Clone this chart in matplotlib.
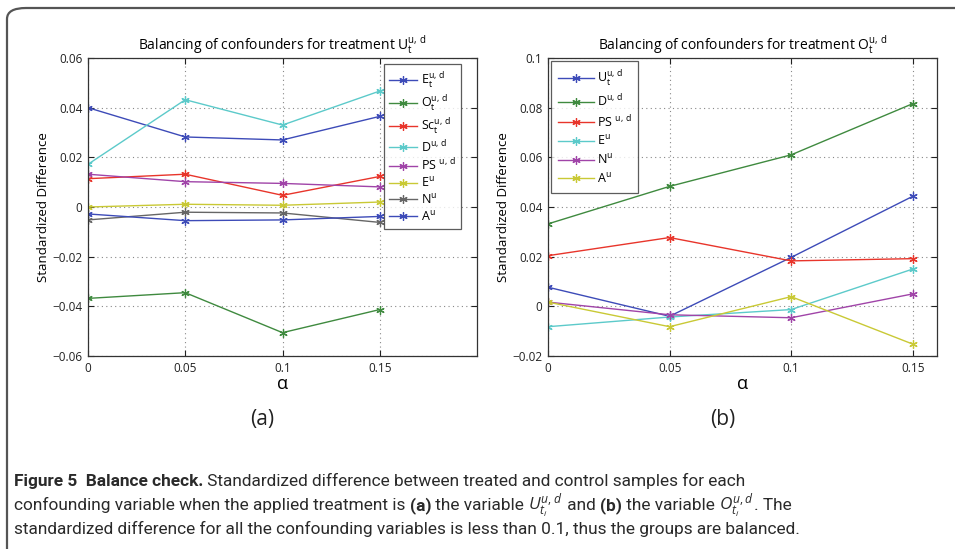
import matplotlib
matplotlib.use("Agg")
import matplotlib.pyplot as plt
from matplotlib.patches import FancyBboxPatch
import numpy as np

plt.rcParams['font.family'] = ['Open Sans', 'DejaVu Sans']
plt.rcParams['mathtext.fontset'] = 'custom'
plt.rcParams['mathtext.rm'] = 'Open Sans'
plt.rcParams['mathtext.it'] = 'Open Sans:italic'
plt.rcParams['mathtext.bf'] = 'Open Sans:bold'

alpha = [0, 0.05, 0.1, 0.15]

# panel (a): treatment U_t
labels_a = [r'E$_{\rm t}^{\rm u,\,d}$', r'O$_{\rm t}^{\rm u,\,d}$', r'Sc$_{\rm t}^{\rm u,\,d}$',
            r'D$^{\rm u,\,d}$', r'PS $^{\rm u,\,d}$', r'E$^{\rm u}$', r'N$^{\rm u}$', r'A$^{\rm u}$']
E_t = [0.0400, 0.0282, 0.0270, 0.0365]
O_t = [-0.0368, -0.0345, -0.0506, -0.0413]
Sc_t = [0.0114, 0.0132, 0.0047, 0.0123]
D_a = [0.0172, 0.0432, 0.0330, 0.0467]
PS_a = [0.0132, 0.0102, 0.0095, 0.0081]
E_u_a = [0.0000, 0.0011, 0.0007, 0.0020]
N_u_a = [-0.0052, -0.0021, -0.0024, -0.0062]
A_u_a = [-0.0028, -0.0055, -0.0052, -0.0038]
colors_a = ['#3d4bb8', '#3f8a3f', '#e8352b', '#5ccaca', '#a044a8', '#c9c935', '#666666', '#3d4bb8']

# panel (b): treatment O_t
labels_b = [r'U$_{\rm t}^{\rm u,\,d}$', r'D$^{\rm u,\,d}$', r'PS $^{\rm u,\,d}$',
            r'E$^{\rm u}$', r'N$^{\rm u}$', r'A$^{\rm u}$']
U_t = [0.0077, -0.0040, 0.0197, 0.0443]
D_b = [0.0332, 0.0483, 0.0610, 0.0816]
PS_b = [0.0204, 0.0277, 0.0183, 0.0192]
E_u_b = [-0.0082, -0.0043, -0.0013, 0.0150]
N_u_b = [0.0017, -0.0034, -0.0046, 0.0050]
A_u_b = [0.0017, -0.0082, 0.0039, -0.0152]
colors_b = ['#3d4bb8', '#3f8a3f', '#e8352b', '#5ccaca', '#a044a8', '#c9c935']

W, H = 955, 549
fig = plt.figure(figsize=(W / 100, H / 100), dpi=100)

def px_axes(x0, y0, x1, y1):
    return fig.add_axes([x0 / W, 1 - y1 / H, (x1 - x0) / W, (y1 - y0) / H])

def style(ax, xlim, ylim, yticks, yticklabels):
    ax.set_xlim(*xlim)
    ax.set_ylim(*ylim)
    ax.set_xticks(alpha)
    ax.set_xticklabels(['0', '0.05', '0.1', '0.15'])
    ax.set_yticks(yticks)
    ax.set_yticklabels(yticklabels)
    ax.tick_params(direction='in', top=True, right=True, length=4, width=0.8,
                   labelsize=8.5, colors='#222222', pad=4)
    ax.grid(True, linestyle=(0, (1, 3)), color='#888888', linewidth=0.8)
    for s in ax.spines.values():
        s.set_color('#333333')
        s.set_linewidth(0.9)
    ax.set_xlabel('\u03b1', fontsize=13, labelpad=0)
    ax.set_ylabel('Standardized Difference', fontsize=9.5, labelpad=2)

mk = dict(marker=(6, 2, 0), markersize=6, linewidth=1.0, markeredgewidth=0.9)

ax1 = px_axes(88, 58, 477, 356)
for vals, lab, c in zip([E_t, O_t, Sc_t, D_a, PS_a, E_u_a, N_u_a, A_u_a], labels_a, colors_a):
    ax1.plot(alpha, vals, color=c, label=lab, **mk)
style(ax1, (0, 0.2), (-0.06, 0.06), [-0.06, -0.04, -0.02, 0, 0.02, 0.04, 0.06],
      ['\u22120.06', '\u22120.04', '\u22120.02', '0', '0.02', '0.04', '0.06'])
ax1.set_title(r'Balancing of confounders for treatment U$_{\rm t}^{\rm u,\,d}$', fontsize=10, pad=6)
leg1 = ax1.legend(loc='upper right', bbox_to_anchor=(0.959, 0.98), fontsize=9, frameon=True,
                  fancybox=False, edgecolor='#333333', borderaxespad=0, handlelength=2.2,
                  handletextpad=0.3, labelspacing=0.22, borderpad=0.45)
leg1.get_frame().set_linewidth(0.9)

ax2 = px_axes(548, 58, 937, 356)
for vals, lab, c in zip([U_t, D_b, PS_b, E_u_b, N_u_b, A_u_b], labels_b, colors_b):
    ax2.plot(alpha, vals, color=c, label=lab, **mk)
style(ax2, (0, 0.16), (-0.02, 0.1), [-0.02, 0, 0.02, 0.04, 0.06, 0.08, 0.1],
      ['\u22120.02', '0', '0.02', '0.04', '0.06', '0.08', '0.1'])
ax2.set_title(r'Balancing of confounders for treatment O$_{\rm t}^{\rm u,\,d}$', fontsize=10, pad=6)
leg2 = ax2.legend(loc='upper left', fontsize=9, frameon=True, fancybox=False,
                  edgecolor='#333333', borderaxespad=0.25, handlelength=2.9,
                  handletextpad=0.2, labelspacing=0.38, borderpad=0.55)
leg2.get_frame().set_linewidth(0.9)

fig.text(262 / W, 1 - 420 / H, '(a)', fontsize=15, ha='center', va='center', color='#222222')
fig.text(723 / W, 1 - 420 / H, '(b)', fontsize=15, ha='center', va='center', color='#222222')

# outer frame
frame = FancyBboxPatch((7 / W, -0.2), 1.2, 1 - 8 / H + 0.2, transform=fig.transFigure,
                       boxstyle='round,pad=0,rounding_size=0.02', fill=False,
                       edgecolor='#555555', linewidth=1.6, clip_on=False)
fig.patches.append(frame)

# caption
cap_font = ['Roboto', 'DejaVu Sans']
cap_col = '#2a2a2a'
renderer = fig.canvas.get_renderer()
line3 = 'standardized difference for all the confounding variables is less than 0.1, thus the groups are balanced.'
probe = fig.text(0, 0, line3, fontsize=12, family=cap_font)
cap_size = 12 * 785 / probe.get_window_extent(renderer=renderer).width
probe.remove()

def caption_line(y, pieces):
    x = 14
    for txt, weight in pieces:
        t = fig.text(x / W, 1 - y / H, txt, fontsize=cap_size, fontweight=weight,
                     family=cap_font, color=cap_col, va='baseline', ha='left')
        bb = t.get_window_extent(renderer=renderer)
        x += bb.width

caption_line(486, [('Figure 5  Balance check.', 'bold'),
                   (' Standardized difference between treated and control samples for each', 'normal')])
caption_line(510, [('confounding variable when the applied treatment is ', 'normal'), ('(a)', 'bold'),
                   (' the variable ', 'normal'), (r'$U_{t_i}^{u,d}$', 'normal'), (' and ', 'normal'),
                   ('(b)', 'bold'), (' the variable ', 'normal'), (r'$O_{t_i}^{u,d}$', 'normal'),
                   ('. The', 'normal')])
caption_line(534, [(line3, 'normal')])

fig.savefig('out.png', dpi=100)
